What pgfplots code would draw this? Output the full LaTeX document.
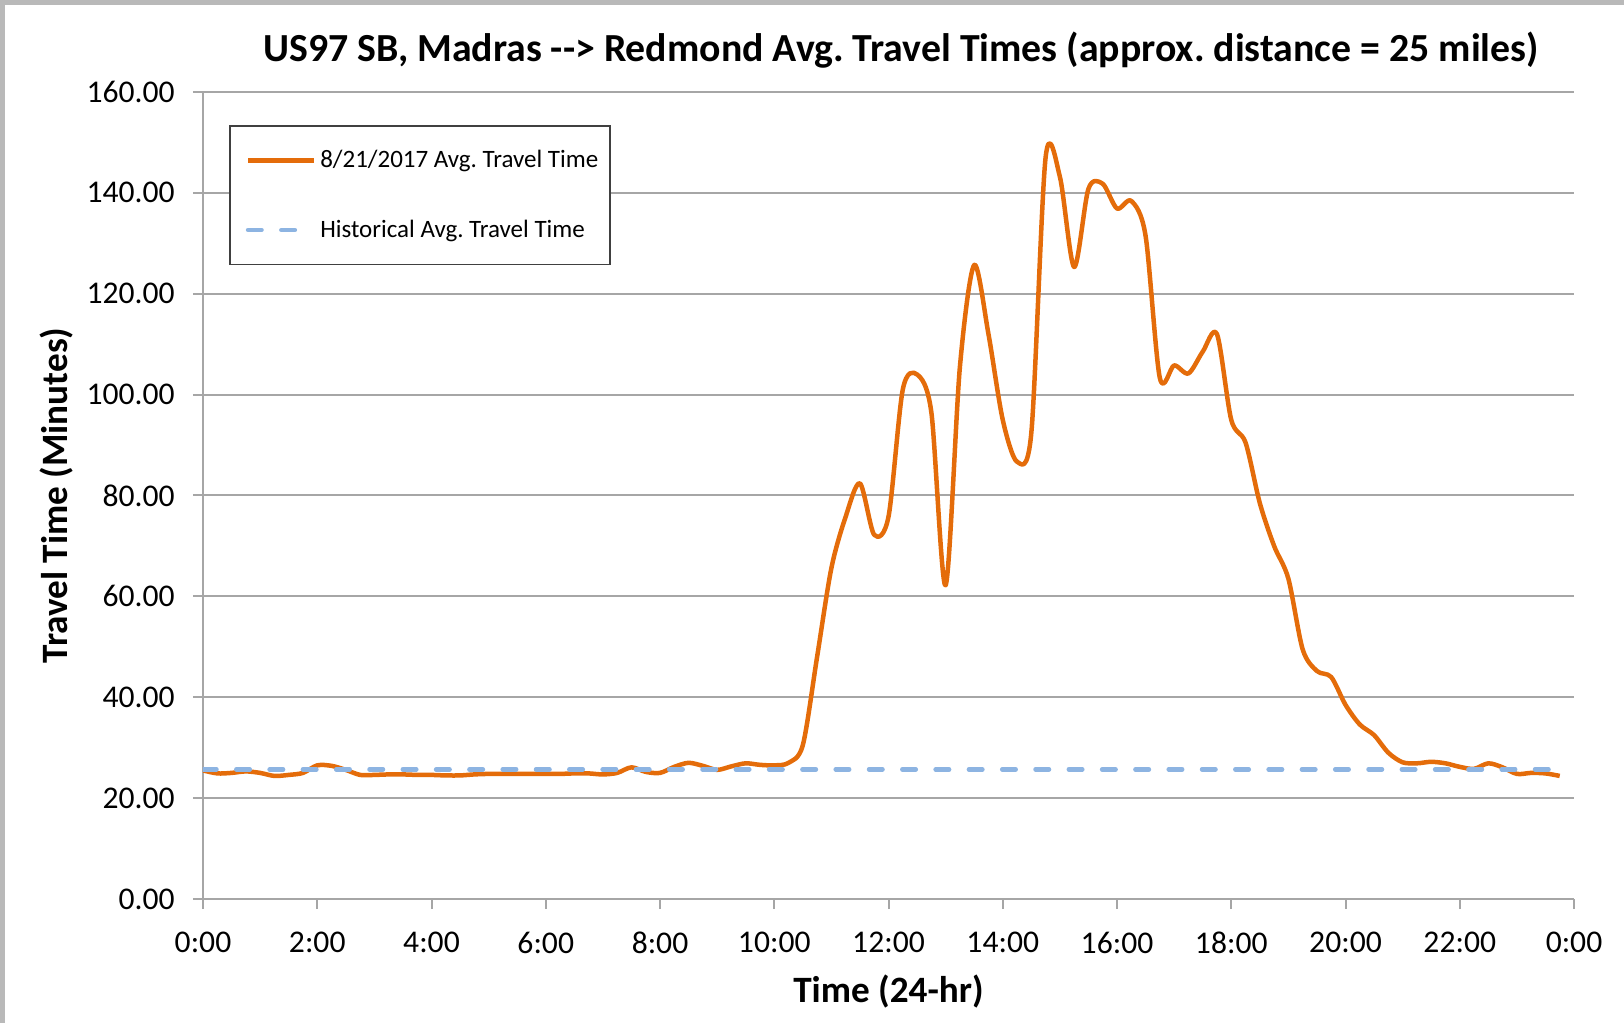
\documentclass[border=0pt]{standalone}
\usepackage{fontspec}
\setmainfont{Carlito}
\usepackage{pgfplots}
\pgfplotsset{compat=1.18}
\definecolor{tto}{HTML}{E46C0A}
\definecolor{histblue}{HTML}{8DB4E2}
\definecolor{gridc}{HTML}{A6A6A6}
\frenchspacing

\begin{document}
\begin{tikzpicture}
\path[use as bounding box] (0,0) rectangle (812pt,511.5pt);
\fill[gray!55] (0,509pt) rectangle (812pt,511.5pt);
\fill[gray!55] (0,0) rectangle (2.5pt,511.5pt);
\node[font=\fontsize{19.9}{22}\selectfont\bfseries] at (450.5pt,486.5pt)
  {US97 SB, Madras {-}{-}> Redmond Avg. Travel Times (approx. distance = 25 miles)};
\begin{axis}[
  at={(101.5pt,62pt)}, anchor=south west,
  scale only axis, width=685.5pt, height=403.5pt,
  xmin=0, xmax=24, ymin=0, ymax=160,
  axis x line*=bottom, axis y line*=left,
  axis line style={gridc, line width=1pt},
  xtick={0,2,...,24},
  xticklabels={0:00,2:00,4:00,6:00,8:00,10:00,12:00,14:00,16:00,18:00,20:00,22:00,0:00},
  ytick={0,20,...,160},
  tick align=outside, major tick length=5pt,
  tick style={gridc, line width=1pt},
  ymajorgrids, grid style={gridc, line width=1pt},
  ticklabel style={font=\fontsize{15.8}{18}\selectfont},
  /pgf/number format/fixed, /pgf/number format/fixed zerofill,
  /pgf/number format/precision=2, /pgf/number format/assume math mode=true,
  xticklabel style={anchor=north, inner sep=0pt},
  yticklabel style={anchor=east, inner sep=0pt},
  xticklabel shift=11.5pt, yticklabel shift=9pt,
  xlabel={Time (24-hr)},
  xlabel style={at={(axis description cs:0.5,-0.1152)}, anchor=center,
    font=\fontsize{18.6}{22}\selectfont\bfseries},
  ylabel={Travel Time (Minutes)},
  ylabel style={at={(axis description cs:-0.1065,0.5)}, anchor=center,
    font=\fontsize{18.6}{22}\selectfont\bfseries},
  legend style={at={(0.019,0.959)}, anchor=north west, draw=black!75,
    line width=0.75pt, fill=white, font=\fontsize{12.5}{14}\selectfont,
    row sep=20.6pt, inner xsep=4pt, inner ysep=10.2pt, cells={anchor=west}},
  legend image code/.code={\path (0pt,0pt); \draw[#1] (4pt,0pt) -- (37pt,0pt);},
]
\addplot[tto, line width=2.25pt, line join=round, smooth] coordinates {
(0,25.5) (0.25,24.9) (0.5,25.0) (0.75,25.3) (1,25.0) (1.25,24.4) (1.5,24.6) (1.75,25.0)
(2,26.5) (2.25,26.4) (2.5,25.6) (2.75,24.6) (3,24.6) (3.25,24.7) (3.5,24.7) (3.75,24.6)
(4,24.6) (4.25,24.5) (4.5,24.5) (4.75,24.7) (5,24.8) (5.25,24.8) (5.5,24.8) (5.75,24.8)
(6,24.8) (6.25,24.8) (6.5,24.9) (6.75,24.9) (7,24.7) (7.25,25.0) (7.5,26.1) (7.75,25.2)
(8,25.0) (8.25,26.2) (8.5,27.0) (8.75,26.4) (9,25.6) (9.25,26.3) (9.5,26.9) (9.75,26.6)
(10,26.5) (10.25,27.0) (10.5,30.5) (10.75,48.0) (11,65.6) (11.25,75.8) (11.5,82.4) (11.75,72.2)
(12,75.8) (12.25,101.0) (12.5,104.0) (12.75,96.5) (13,62.2) (13.25,105.5) (13.5,125.7) (13.75,112.0)
(14,95.0) (14.25,86.7) (14.5,92.4) (14.75,147.0) (15,143.2) (15.25,125.3) (15.5,140.8) (15.75,141.8)
(16,136.9) (16.25,138.4) (16.5,131.5) (16.75,103.3) (17,105.8) (17.25,104.2) (17.5,108.5) (17.75,112.0)
(18,95.0) (18.25,90.5) (18.5,78.5) (18.75,70.0) (19,63.5) (19.25,49.5) (19.5,45.2) (19.75,44.0)
(20,38.5) (20.25,34.6) (20.5,32.5) (20.75,29.0) (21,27.1) (21.25,26.9) (21.5,27.2) (21.75,26.9)
(22,26.2) (22.25,25.8) (22.5,26.9) (22.75,26.1) (23,24.8) (23.25,25.0) (23.5,24.9) (23.75,24.4)
};
\addplot[histblue, line width=2.25pt, line cap=round, dash pattern=on 6.75pt off 9.9pt]
  coordinates {(0,25.7) (23.75,25.7)};
\legend{8/21/2017 Avg. Travel Time, Historical Avg. Travel Time}
\end{axis}
\end{tikzpicture}
\end{document}
